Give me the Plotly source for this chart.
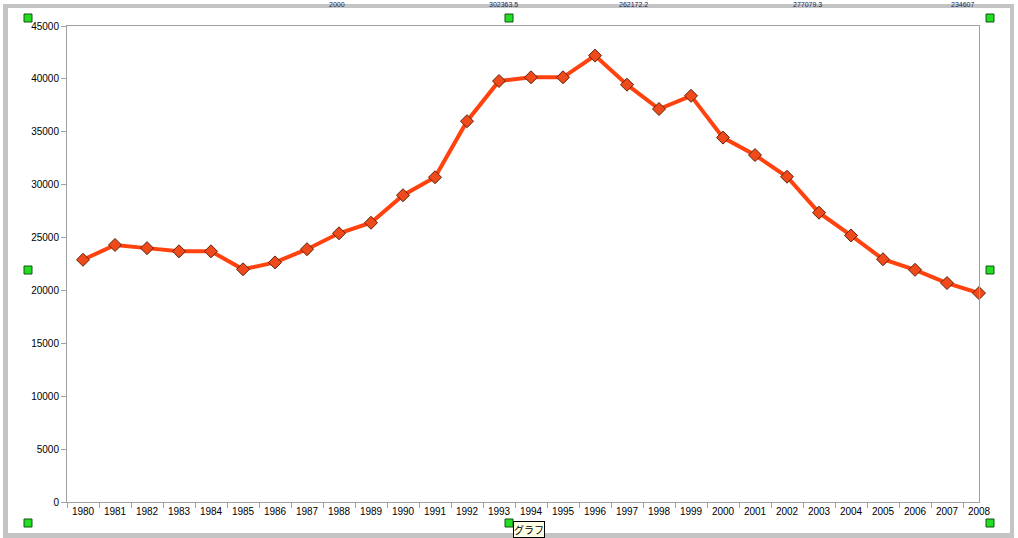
import plotly.graph_objects as go

# data
years = [str(y) for y in range(1980, 2009)]
values = [22900, 24300, 24000, 23700, 23700, 22000, 22650, 23900, 25400, 26400,
          29000, 30700, 36000, 39800, 40150, 40150, 42200, 39450, 37150, 38400,
          34450, 32800, 30750, 27350, 25200, 22950, 21950, 20700, 19750]
y_ticks = list(range(0, 45001, 5000))
cell_texts = ["2000", "302363.5", "262172.2", "277079.3", "234607"]
cell_right = [346, 519, 649, 823, 975]

W, H = 1018, 538
L, R, T, B = 67, 39, 26, 36
pw, ph = W - L - R, H - T - B


def px(x):
    return (x - L) / pw


def py(y):
    return (H - B - y) / ph


fig = go.Figure()

fig.add_trace(go.Scatter(
    x=years,
    y=values,
    mode='lines+markers',
    line=dict(color='#ff420e', width=4),
    marker=dict(symbol='diamond', size=10, color='#f04a1a',
                line=dict(color='#5a2410', width=1)),
    cliponaxis=False,
    showlegend=False,
    hoverinfo='x+y'
))

shapes = []
grey = '#c4c4c4'
# selection frame bands around the chart object
shapes.append(dict(type='rect', xref='paper', yref='paper', x0=px(3), x1=px(1014), y0=py(4), y1=py(8),
                   fillcolor=grey, line_width=0, layer='above'))
shapes.append(dict(type='rect', xref='paper', yref='paper', x0=px(3), x1=px(1014), y0=py(533), y1=py(538),
                   fillcolor=grey, line_width=0, layer='above'))
shapes.append(dict(type='rect', xref='paper', yref='paper', x0=px(3), x1=px(8), y0=py(4), y1=py(538),
                   fillcolor=grey, line_width=0, layer='above'))
shapes.append(dict(type='rect', xref='paper', yref='paper', x0=px(1010), x1=px(1014), y0=py(4), y1=py(538),
                   fillcolor=grey, line_width=0, layer='above'))

# green selection handles
handles_x = [28, 509, 990]
handles_y = [18, 270, 523]
for hx in handles_x:
    for hy in handles_y:
        if hx == 509 and hy == 270:
            continue
        shapes.append(dict(type='rect', xref='paper', yref='paper',
                           x0=px(hx - 4), x1=px(hx + 4), y0=py(hy - 4), y1=py(hy + 4),
                           fillcolor='#22dd22', line=dict(color='#115511', width=1), layer='above'))

# tooltip label
annotations = [dict(text='グラフ', xref='paper', yref='paper', x=px(513), y=py(538),
                    xanchor='left', yanchor='bottom', showarrow=False,
                    bgcolor='#ffffe6', bordercolor='#000000', borderwidth=1, borderpad=0,
                    font=dict(family='Noto Sans CJK JP', size=10, color='#000000'))]
# spreadsheet cells peeking out above the chart
for t, xr in zip(cell_texts, cell_right):
    annotations.append(dict(text=t, xref='paper', yref='paper', x=px(xr), y=py(0),
                            xanchor='right', yanchor='top', showarrow=False, borderpad=0,
                            font=dict(family='Liberation Sans', size=7, color='#1a1a5a')))

fig.update_layout(
    width=W,
    height=H,
    autosize=False,
    margin=dict(l=L, r=R, t=T, b=B, pad=0),
    paper_bgcolor='white',
    plot_bgcolor='white',
    font=dict(family='Liberation Sans', size=10, color='#000000'),
    xaxis=dict(
        type='category',
        range=[-0.5, 28],
        tickson='boundaries',
        ticks='outside',
        ticklen=5,
        tickcolor='#a0a0a0',
        showgrid=False,
        showline=True,
        linecolor='#a0a0a0',
        linewidth=1,
        mirror=True,
        tickangle=0,
        tickfont=dict(size=10),
        zeroline=False,
    ),
    yaxis=dict(
        range=[0, 45000],
        tickvals=y_ticks,
        tickformat='d',
        ticks='outside',
        ticklen=5,
        tickcolor='#a0a0a0',
        showgrid=False,
        showline=True,
        linecolor='#a0a0a0',
        linewidth=1,
        mirror=True,
        zeroline=False,
        tickfont=dict(size=10),
    ),
    shapes=shapes,
    annotations=annotations,
)

# drop the default page margin so the figure fills the window exactly
fig.write_html("out.html", config={'displayModeBar': False},
               post_script="document.body.style.margin='0';")
